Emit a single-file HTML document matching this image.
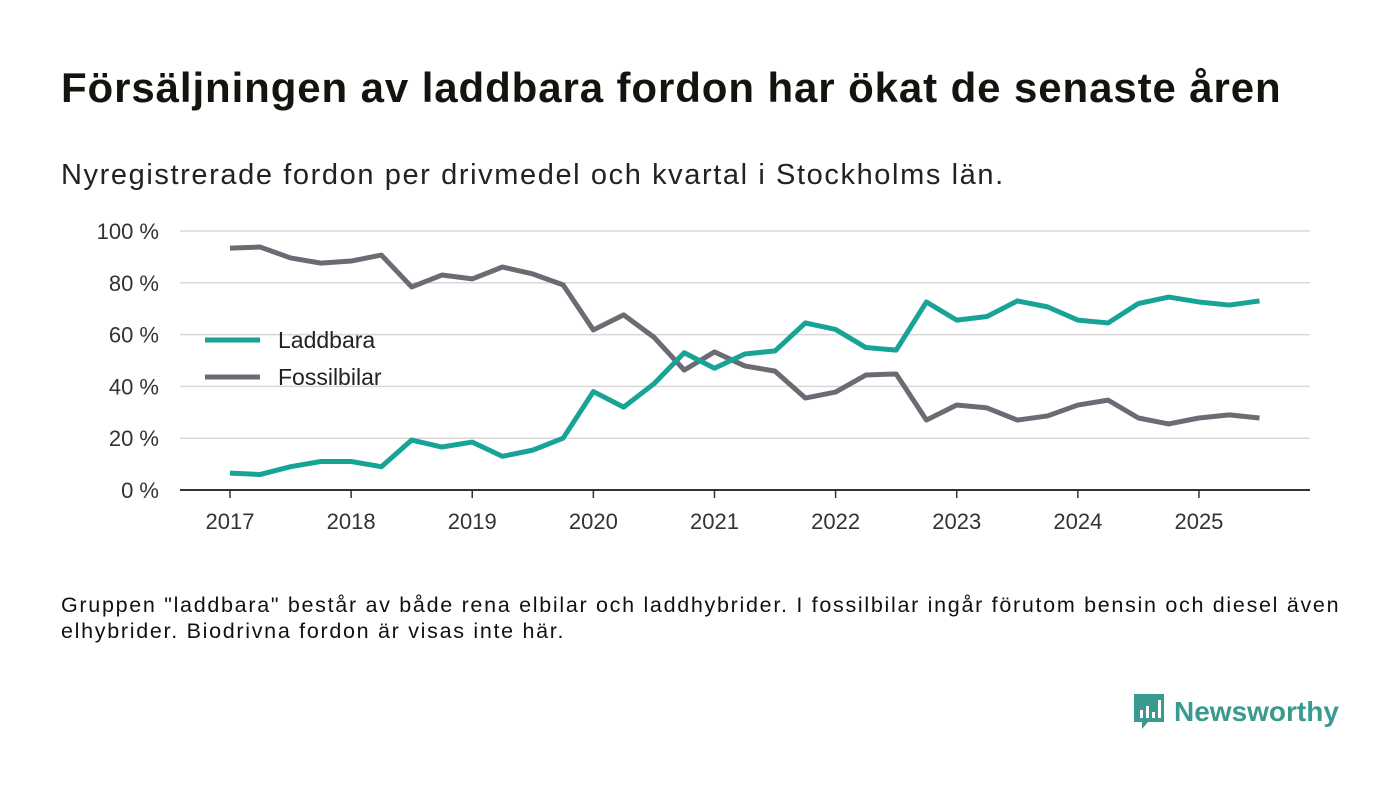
<!DOCTYPE html>
<html><head><meta charset="utf-8"><style>
body{margin:0;width:1400px;height:793px;background:#fff;font-family:"Liberation Sans","DejaVu Sans",sans-serif;overflow:hidden;position:relative;color:#111}
#title{position:absolute;left:61px;top:64px;font-size:42px;font-weight:bold;margin:0;color:#14140f;letter-spacing:0.9px;white-space:nowrap}
#sub{position:absolute;left:61px;top:159px;font-size:29px;color:#222;letter-spacing:1.6px;white-space:nowrap}
#note{position:absolute;left:61px;top:592px;font-size:21.5px;line-height:26px;color:#111;width:1330px;letter-spacing:1.7px;white-space:nowrap}
#logo{position:absolute;left:1132px;top:692px;display:flex;align-items:center}
#logo span{font-size:28px;font-weight:bold;color:#3a9a8f;margin-left:8px}
svg text{font-family:"Liberation Sans","DejaVu Sans",sans-serif}
</style></head><body>
<h1 id="title">Försäljningen av laddbara fordon har ökat de senaste åren</h1>
<div id="sub">Nyregistrerade fordon per drivmedel och kvartal i Stockholms län.</div>
<svg id="chart" width="1400" height="793" style="position:absolute;left:0;top:0"></svg>
<div id="note">Gruppen "laddbara" består av både rena elbilar och laddhybrider. I fossilbilar ingår förutom bensin och diesel även<br>elhybrider. Biodrivna fordon är visas inte här.</div>
<div id="logo">
<svg width="34" height="40" viewBox="0 0 34 40"><path d="M2 2h30v28H16l-6 7v-7H2z" fill="#3a9a8f"/><rect x="8" y="18" width="3" height="8" fill="#fff"/><rect x="14" y="14" width="3" height="12" fill="#fff"/><rect x="20" y="20" width="3" height="6" fill="#fff"/><rect x="26" y="8" width="3" height="18" fill="#fff"/></svg>
<span>Newsworthy</span></div>
<script>
const years=["2017","2018","2019","2020","2021","2022","2023","2024","2025"];
const yTicks=[0,20,40,60,80,100];
const laddbara=[6.5,6,9,11,11,9,19.3,16.6,18.5,13,15.4,20,38,32,41,53,47,52.5,53.7,64.5,62,55,54,72.6,65.6,67,73,70.7,65.6,64.5,72,74.5,72.6,71.4,73];
const fossil=[93.4,93.8,89.6,87.6,88.4,90.7,78.4,83,81.5,86.1,83.4,79.2,61.8,67.6,59,46.3,53.3,47.9,45.9,35.5,37.8,44.4,44.8,27,32.8,31.7,27,28.6,32.8,34.7,27.8,25.5,27.8,29,27.8];
const NS="http://www.w3.org/2000/svg",svg=document.getElementById('chart');
const x=i=>230+i*30.28, y=v=>490-v*2.59;
function mk(t,a,p){const e=document.createElementNS(NS,t);for(const k in a)e.setAttribute(k,a[k]);(p||svg).appendChild(e);return e;}
yTicks.forEach(v=>{
 if(v>0){const l=mk('line',{x1:180,x2:1310,y1:y(v),y2:y(v),stroke:'#d8d8d8','stroke-width':1.5});
 
 }
 const t=mk('text',{x:159,y:y(v)+8,'text-anchor':'end','font-size':22,fill:'#333'});t.textContent=v+' %';
 
 
});
const ax=mk('line',{x1:180,x2:1310,y1:490,y2:490,stroke:'#333','stroke-width':2});


years.forEach((yr,i)=>{
 const xx=x(i*4);
 mk('line',{x1:xx,x2:xx,y1:490,y2:498,stroke:'#333','stroke-width':1.5});
 const t=mk('text',{x:xx,y:529,'text-anchor':'middle','font-size':22,fill:'#333'});t.textContent=yr;
 
 
});
function line(d,c,n){const p=mk('polyline',{points:d.map((v,i)=>x(i)+','+y(v)).join(' '),fill:'none',stroke:c,'stroke-width':5,'stroke-linejoin':'round'});
 
 }
line(fossil,'#6c6b73','fossilbilar-line');
line(laddbara,'#17a396','laddbara-line');
[['Laddbara','#17a396',340],['Fossilbilar','#6c6b73',377]].forEach(([n,c,yy])=>{
 const g=mk('g',{});
 
 
 mk('line',{x1:205,x2:260,y1:yy,y2:yy,stroke:c,'stroke-width':5},g);
 const t=mk('text',{x:278,y:yy+8,'font-size':23,fill:'#222'},g);t.textContent=n;
});
</script>
</body></html>
